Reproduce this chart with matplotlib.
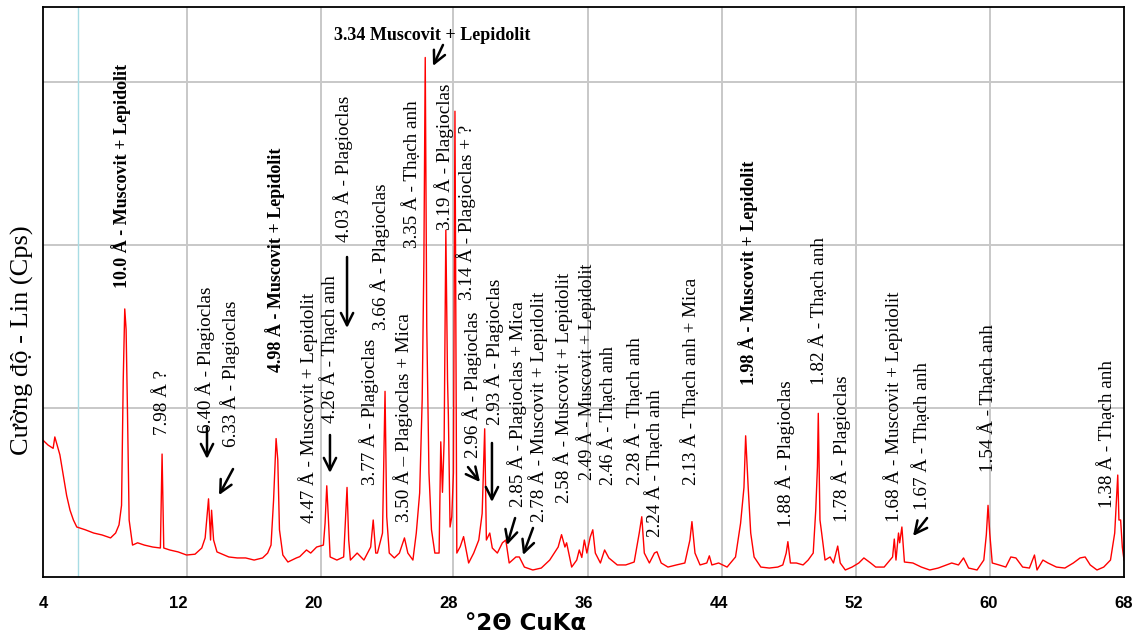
import matplotlib
matplotlib.use("Agg")
import matplotlib.pyplot as plt

# XRD trace (2theta in degrees, intensity in Cps-like units)
two_theta = [4.0, 4.3, 4.6, 4.7, 5.0, 5.2, 5.4, 5.6, 5.8, 6.0, 6.5, 7.0, 7.5, 8.0, 8.3, 8.5, 8.65,
             8.75, 8.84, 8.92, 9.0, 9.1, 9.3, 9.6, 10.0, 10.5, 10.95, 11.05, 11.15, 11.5, 12.0,
             12.5, 13.0, 13.4, 13.6, 13.8, 13.92, 13.98, 14.1, 14.3, 15.0, 15.5, 16.0, 16.5, 17.0,
             17.3, 17.5, 17.65, 17.8, 17.9, 18.0, 18.2, 18.5, 19.0, 19.2, 19.6, 19.85, 20.2, 20.6,
             20.7, 20.8, 20.9, 21.0, 21.4, 21.8, 22.0, 22.1, 22.2, 22.6, 23.0, 23.4, 23.55, 23.7,
             23.8, 24.1, 24.25, 24.35, 24.5, 24.8, 25.1, 25.4, 25.6, 25.9, 26.1, 26.3, 26.45, 26.55,
             26.63, 26.72, 26.85, 27.0, 27.2, 27.45, 27.55, 27.65, 27.75, 27.85, 27.95, 28.0, 28.1,
             28.2, 28.3, 28.39, 28.5, 28.7, 28.9, 29.2, 29.5, 29.8, 30.0, 30.15, 30.25, 30.45,
             30.6, 30.9, 31.2, 31.4, 31.6, 32.0, 32.2, 32.5, 33.0, 33.5, 34.0, 34.5, 34.7, 34.9,
             35.0, 35.3, 35.6, 35.75, 35.9, 36.05, 36.2, 36.4, 36.55, 36.7, 37.0, 37.25, 37.5,
             38.0, 38.5, 39.0, 39.3, 39.45, 39.6, 39.9, 40.2, 40.35, 40.6, 41.0, 41.5, 42.0, 42.3,
             42.42, 42.6, 42.9, 43.3, 43.45, 43.6, 44.0, 44.5, 45.0, 45.3, 45.5, 45.6, 45.75, 45.9,
             46.1, 46.5, 47.0, 47.5, 47.8, 48.0, 48.1, 48.25, 48.6, 49.0, 49.3, 49.6, 49.75, 49.85,
             49.9, 50.0, 50.1, 50.3, 50.6, 50.8, 51.05, 51.2, 51.5, 51.9, 52.3, 52.6, 53.0, 53.3,
             53.8, 54.3, 54.4, 54.5, 54.65, 54.72, 54.85, 55.0, 55.5, 56.0, 56.5, 57.0, 57.5, 57.8,
             58.2, 58.5, 58.8, 59.3, 59.7, 59.85, 59.95, 60.05, 60.2, 60.6, 61.0, 61.3, 61.6, 62.0,
             62.4, 62.7, 62.85, 63.2, 63.5, 64.0, 64.5, 65.0, 65.4, 65.7, 66.0, 66.4, 66.8, 67.2,
             67.45, 67.63, 67.7, 67.8, 67.9, 68.0]
counts = [80, 77, 75, 82, 71, 58.6, 46, 37, 31, 26.7, 25, 23, 21.8, 20, 23, 28, 40,
          117, 160.6, 148, 98.5, 31, 15.6, 17, 15.6, 14.4, 13.8, 71.5, 13.8, 12.6, 11.4,
          9.5, 10, 13.8, 20, 44, 18.7, 37, 18.7, 11.4, 8.3, 7.7, 7.7, 6.4, 7.7,
          10.7, 15.6, 43, 81, 68, 25, 9.5, 5.2, 7.7, 8.5, 12.6, 10.7, 14.4, 15.6,
          29, 52, 31, 8.3, 6.4, 8.3, 51, 18.7, 6.4, 10.7, 6.4, 14.4, 31, 10.7,
          10.7, 23, 110, 33, 10.7, 7.7, 10.7, 20, 10.7, 6.4, 23, 47.6, 105, 190,
          315, 150, 60, 25, 10.7, 10.7, 79, 48, 80, 209, 117, 95, 26.7,
          33, 60, 282, 10.7, 14.6, 20.8, 4.6, 10.7, 18.7, 35, 87, 18.7, 23,
          13.8, 10.7, 17, 18.7, 4.6, 8.3, 8.3, 2.1, 0.3, 1.5, 6.4, 14.4, 22, 14.4,
          17, 2.1, 6.4, 12.6, 8, 18.7, 10.7, 20.6, 25, 10.7, 4.6, 12.6, 7.7,
          3.4, 3.4, 5.2, 23, 33, 10.7, 4.6, 10.7, 11.5, 4.6, 2.1, 3.4, 4.6, 18.7,
          30, 10.7, 3.4, 4.6, 9, 3.4, 4.6, 2.1, 8.3, 29, 51, 82.7, 51, 23,
          8.3, 2.1, 1.5, 2.1, 3.4, 10.7, 17.7, 4.6, 4.6, 3.4, 6.4, 10.7, 37, 63.7,
          96.5, 31, 23, 6.4, 8.3, 4.6, 15, 4.6, 0.3, 2.1, 4.6, 7.7, 4.6, 2.1,
          2.1, 8.3, 19.3, 6.4, 23, 17, 26.7, 5.2, 4.6, 2.1, 0.3, 1.5, 3.4, 4.6,
          3.4, 7.7, 1.5, 0.3, 6.4, 22, 40, 23, 4.6, 3.4, 2.1, 8.3, 7.7, 2.1,
          1.5, 9.5, 0.3, 6.4, 4.6, 2.1, 1.5, 4.6, 7.7, 8.3, 3.4, 0.3, 2.1, 6.4,
          23, 58.6, 31, 31, 14.4, 6.4]

# peak labels: text, 2theta of label, bottom of label, bold?
label_text = ["10.0 Å - Muscovit + Lepidolit", "7.98 Å ?", "6.40 Å - Plagioclas",
              "6.33 Å - Plagioclas", "4.98 Å - Muscovit + Lepidolit",
              "4.47 Å - Muscovit + Lepidolit", "4.26 Å - Thạch anh", "4.03 Å - Plagioclas",
              "3.77 Å - Plagioclas", "3.66 Å - Plagioclas", "3.50 Å – Plagioclas + Mica",
              "3.35 Å - Thạch anh", "3.19 Å - Plagioclas", "3.14 Å - Plagioclas + ?",
              "2.96 Å - Plagioclas", "2.93 Å - Plagioclas", "2.85 Å - Plagioclas + Mica",
              "2.78 Å - Muscovit + Lepidolit", "2.58 Å - Muscovit + Lepidolit",
              "2.49 Å - Muscovit + Lepidolit", "2.46 Å - Thạch anh", "2.28 Å - Thạch anh",
              "2.24 Å - Thạch anh", "2.13 Å - Thạch anh + Mica", "1.98 Å - Muscovit + Lepidolit",
              "1.88 Å - Plagioclas", "1.82 Å - Thạch anh", "1.78 Å - Plagioclas",
              "1.68 Å - Muscovit + Lepidolit", "1.67 Å - Thạch anh", "1.54 Å - Thạch anh",
              "1.38 Å - Thạch anh"]
label_x = [8.62, 11.10, 13.59, 15.07, 17.74, 19.69, 20.99, 21.76, 23.30, 23.95, 25.31,
           25.85, 27.74, 29.04, 29.40, 30.70, 32.06, 33.31, 34.79, 36.15, 37.44, 39.05,
           40.23, 42.31, 45.74, 47.93, 49.94, 51.25, 54.33, 56.04, 59.95, 66.94]
label_y = [173.5, 83.2, 84.4, 75.8, 121.9, 29.2, 90.6, 201.7, 52.5, 147.7, 29.8,
           198, 209.1, 166.1, 69.1, 89.3, 39, 29.8, 41.4, 55.6, 52.5, 52.5,
           20.6, 52.5, 113.9, 26.7, 113.9, 29.8, 29.8, 37.1, 60.5, 38.4]
label_bold = [True, False, False, False, True, False, False, False, False, False, False,
              False, False, False, False, False, False, False, False, False, False, False,
              False, False, True, False, False, False, False, False, False, False]

# arrows (tail -> head)
arrow_tail = [(13.71, 87.5), (15.25, 62.3), (20.99, 83.2), (22.0, 192.5), (27.68, 322.7),
              (29.16, 63.5), (30.58, 78.3), (31.95, 32.2), (33.01, 26.1), (56.34, 32.2)]
arrow_head = [(13.71, 68.5), (14.42, 46.3), (20.99, 59.9), (22.0, 148.9), (27.09, 309.8),
              (29.87, 54.3), (30.58, 42.05), (31.47, 15.6), (32.42, 9.5), (55.51, 21.2)]

grid_x = [12.53, 20.44, 28.27, 36.27, 44.20, 52.12, 60.07]
grid_y = [100, 200, 300]

serif = ['Liberation Serif', 'DejaVu Serif']

fig = plt.figure(figsize=(11.4, 6.39), dpi=100)
ax = fig.add_axes([43/1140, 62/639, 1081/1140, 570/639])

for gx in grid_x:
    ax.axvline(gx, color='#c8c8c8', lw=1.4, zorder=0)
for gy in grid_y:
    ax.axhline(gy, color='#c8c8c8', lw=1.4, zorder=0)
ax.axvline(6.07, color='#a8dce4', lw=1.0, zorder=0)

ax.plot(two_theta, counts, color='red', lw=1.0, zorder=2)

for t, x, y, b in zip(label_text, label_x, label_y, label_bold):
    size = 13 if b else 13.8
    if t.startswith("2.49") or t.startswith("2.46"):
        size = 13
    ax.text(x, y, t, rotation=90, ha='center', va='bottom', family=serif,
            fontsize=size, fontweight='bold' if b else 'normal', zorder=3)

ax.text(27.03, 328.8, "3.34 Muscovit + Lepidolit", ha='center', va='center', family=serif,
        fontsize=13, fontweight='bold', zorder=3)

for tail, head in zip(arrow_tail, arrow_head):
    ax.annotate('', xy=head, xytext=tail,
                arrowprops=dict(arrowstyle='->', color='black', lw=1.8, mutation_scale=22,
                                shrinkA=0, shrinkB=0))

ax.set_xlim(4, 68)
ax.set_ylim(-4, 346)
ax.set_xticks(range(4, 69, 8))
ax.set_yticks([])
ax.tick_params(axis='x', length=0, pad=14)
for lab in ax.get_xticklabels():
    lab.set_family(['Liberation Sans', 'DejaVu Sans'])
    lab.set_fontweight('bold')
    lab.set_fontsize(12)
for sp in ax.spines.values():
    sp.set_linewidth(1.3)
    sp.set_color('black')

fig.text(526/1140, 1 - 623/639, "°2Θ CuKα", ha='center', va='center',
         family='DejaVu Sans', fontweight='bold', fontsize=16.5)
fig.text(22/1140, 1 - 340/639, "Cường độ - Lin (Cps)", rotation=90, ha='center',
         va='center', family=serif, fontsize=19)

fig.savefig("out.png", dpi=100)
